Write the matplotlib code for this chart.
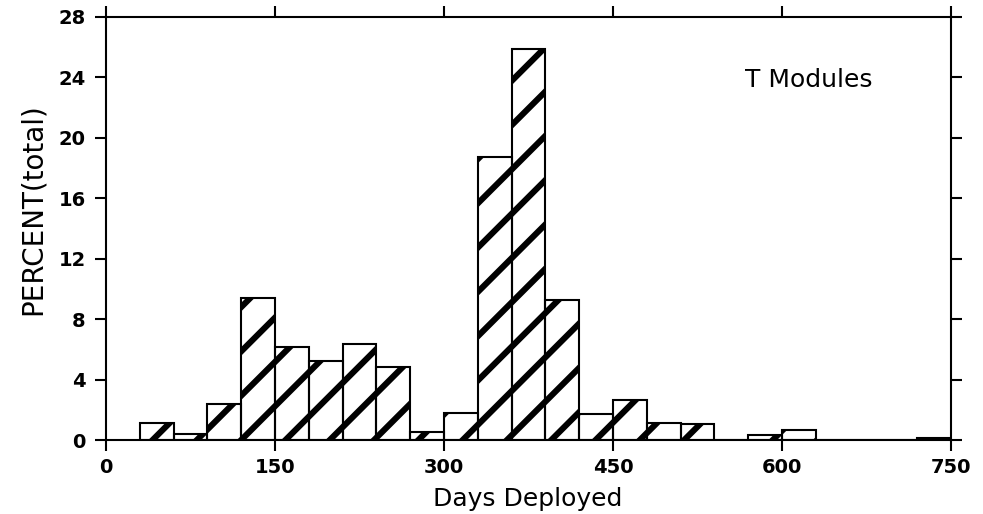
import numpy as np
import matplotlib
matplotlib.use('Agg')
import matplotlib.pyplot as plt
from matplotlib.collections import LineCollection
from matplotlib.transforms import IdentityTransform

# histogram of days deployed, 30 day bins
bin_left = np.arange(30, 750, 30)
percent = [1.15, 0.38, 2.37, 9.4, 6.15, 5.24, 6.35, 4.84, 0.55, 1.81,
           18.7, 25.9, 9.28, 1.7, 2.65, 1.15, 1.05, 0.0, 0.33, 0.68,
           0.0, 0.0, 0.0, 0.15]
bin_width = 30
x_ticks = [0, 150, 300, 450, 600, 750]
y_ticks = [0, 4, 8, 12, 16, 20, 24, 28]

plt.rcParams['font.family'] = ['DejaVu Sans']

W, H = 983, 514
fig = plt.figure(figsize=(W / 100, H / 100), dpi=100)
ax = fig.add_axes([106 / W, 1 - 440 / H, 845 / W, 423 / H])
ax.set_xlim(0, 750)
ax.set_ylim(0, 28)

bars = ax.bar(bin_left, percent, width=bin_width, align='edge',
              facecolor='none', edgecolor='black', linewidth=1.5, zorder=3)

# thick diagonal stripes, continuous across bars, clipped to each bar
x0, y0 = ax.transData.transform((120, 0))
period = 44.3
segs = []
for k in range(-30, 30):
    xs = x0 + k * period
    segs.append([(xs - 600, y0 - 600), (xs + 900, y0 + 900)])
for bar in bars:
    if bar.get_height() <= 0:
        continue
    lc = LineCollection(segs, colors='black', linewidths=4.4,
                        transform=IdentityTransform(), zorder=2)
    ax.add_collection(lc, autolim=False)
    lc.set_clip_path(bar)

ax.set_xticks(x_ticks)
ax.set_yticks(y_ticks)
ax.tick_params(direction='out', length=8, width=1.5, top=True, right=True,
               labeltop=False, labelright=False, labelsize=14)
ax.tick_params(axis='x', pad=5)
ax.tick_params(axis='y', pad=6.5)
for lab in ax.get_xticklabels() + ax.get_yticklabels():
    lab.set_fontweight('bold')
for sp in ax.spines.values():
    sp.set_linewidth(1.5)

ax.text((745 - 106) / 845, (440 - 87) / 423, 'T Modules', fontsize=18,
        ha='left', va='baseline', transform=ax.transAxes)
fig.text(528 / W, 8 / H, 'Days Deployed', fontsize=18, ha='center', va='baseline')
fig.text(33 / W, 1 - 209 / H, 'PERCENT(total)', fontsize=20, rotation=90,
         ha='center', va='center')

fig.savefig('out.png', dpi=100)
